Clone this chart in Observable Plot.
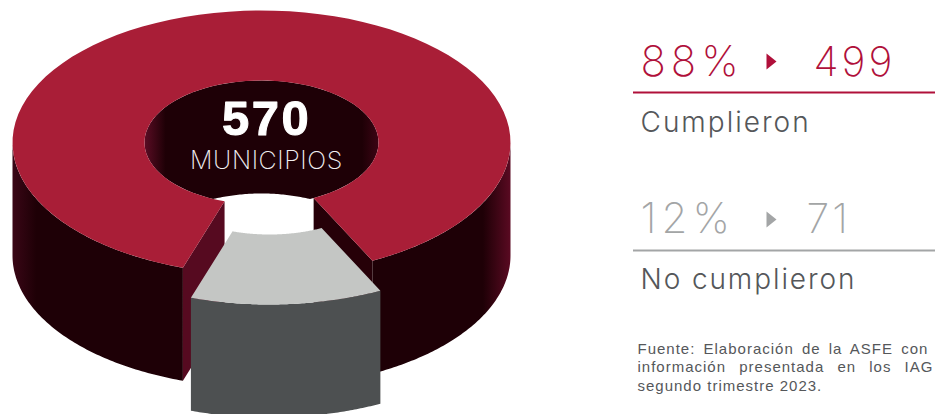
<!DOCTYPE html>
<html>
<head>
<meta charset="utf-8">
<style>html,body{margin:0;padding:0;background:#fff;overflow:hidden}svg{display:block}</style>
<script src="https://cdn.jsdelivr.net/npm/d3@7"></script>
<script src="https://cdn.jsdelivr.net/npm/@observablehq/plot@0.6"></script>
</head>
<body>
<script>
// Data
const total = 570;
const counts = [499, 71];
const percents = ["88%", "12%"];
const groups = ["Cumplieron", "No cumplieron"];
const sourceLines = ["Fuente: Elaboración de la ASFE con", "información presentada en los IAG", "segundo trimestre 2023."];

// Donut geometry in the chart's plane
const cx = 261, cy = 142, rxO = 249, ryO = 132, rxI = 117, ryI = 62, depth = 113;
const explode = {x: 8, y: 30};
const gapLeft = 18.4;                         // rotation of the slice, degrees from front
const gapRight = counts[1] / total * 360 - gapLeft;

const arc = (rx, ry, a0, a1, ox = 0, oy = 0, n = 90) =>
  d3.range(n + 1).map(i => {
    const a = (a0 + (a1 - a0) * i / n) * Math.PI / 180;
    return {x: cx + ox + rx * Math.sin(a), y: cy + oy + ry * Math.cos(a)};
  });
const poly = (pts, fill) => Plot.line(pts, {x: "x", y: "y", fill, stroke: "none", curve: "linear-closed"});
const wall = (a0, a1, ox, oy, fill) =>
  poly([...arc(rxO, ryO, a0, a1, ox, oy), ...arc(rxO, ryO, a1, a0, ox, oy + depth)], fill);
const cutFace = (a, fill) => {
  const o = arc(rxO, ryO, a, a, 0, 0, 1)[0], i = arc(rxI, ryI, a, a, 0, 0, 1)[0];
  return poly([i, o, {x: o.x, y: o.y + depth}, {x: i.x, y: i.y + depth}], fill);
};

const red = "#a91e37", dark = "#1e0006", maroon = "#560a20", darkCut = "#260008";
const greyTop = "#c4c6c4", greyWall = "#4d5051";
const textRed = "#b0103a", textGrey = "#a3a5a6", textDark = "#55575a";

// white seen through the gap: from the foot of the hole's back wall downwards
const backFoot = arc(rxI, ryI, 180 - 40, 180 + 40, 0, depth).filter(p => Math.abs(p.x - cx) <= 52);
const gapWhite = [...backFoot, {x: backFoot[backFoot.length - 1].x, y: cy + ryO + depth}, {x: backFoot[0].x, y: cy + ryO + depth}];

const triangle = (x, y) => [{x, y: y - 8}, {x: x + 10, y}, {x, y: y + 8}];

const font = "Inter, 'Liberation Sans', sans-serif";
const label = (t, x, y, size, fill, weight = 300, anchor = "start", family = font) =>
  Plot.text([t], {text: d => d, x: () => x, y: () => y, fontSize: size, fontWeight: weight, fontFamily: family, fill, textAnchor: anchor, lineAnchor: "bottom", stroke: "none"});

const plot = Plot.plot({
  width: 935, height: 414,
  margin: 0, marginTop: 0, marginRight: 0, marginBottom: 0, marginLeft: 0,
  x: {domain: [0, 935], range: [0, 935], axis: null},
  y: {domain: [0, 414], range: [0, 414], axis: null},
  style: {background: "#fff"},
  marks: [
    // hole
    poly(arc(rxI, ryI, 0, 360), "url(#holeGrad)"),
    poly(gapWhite, "#fff"),
    // outer walls
    wall(-90, -gapLeft, 0, 0, "url(#wallL)"),
    wall(gapRight, 90, 0, 0, "url(#wallR)"),
    // cut faces
    cutFace(-gapLeft, maroon),
    cutFace(gapRight, darkCut),
    // top face of the main slice
    poly([...arc(rxO, ryO, gapRight, 360 - gapLeft), ...arc(rxI, ryI, 360 - gapLeft, gapRight)], red),
    // exploded slice
    wall(-gapLeft, gapRight, explode.x, explode.y, greyWall),
    poly([...arc(rxO, ryO, -gapLeft, gapRight, explode.x, explode.y), ...arc(rxI, ryI, gapRight, -gapLeft, explode.x, explode.y)], greyTop),
    // centre labels
    Plot.text([total], {text: d => String(d), x: () => 266, y: () => 134, fontSize: 49, fontWeight: 700, fontFamily: "'Liberation Sans', sans-serif", fill: "#fff", stroke: "#fff", strokeWidth: 1, textAnchor: "middle", lineAnchor: "bottom"}),
    label("MUNICIPIOS", 266, 168, 25, "#f0eef0", 200, "middle"),
    // right column, group 1
    label(percents[0], 640, 75, 42, textRed, 200),
    poly(triangle(766, 61), textRed),
    label(String(counts[0]), 813, 75, 41, textRed, 200),
    Plot.ruleY([92], {x1: 633, x2: 935, stroke: textRed, strokeWidth: 2}),
    label(groups[0], 640, 131, 28, textDark, 300),
    // right column, group 2
    label(percents[1], 640, 232, 42, textGrey, 200),
    poly(triangle(766, 219), textGrey),
    label(String(counts[1]), 806, 232, 41, textGrey, 200),
    Plot.ruleY([250], {x1: 633, x2: 935, stroke: textGrey, strokeWidth: 2}),
    label(groups[1], 640, 288, 28, textDark, 300),
    // source
    ...sourceLines.map((t, i) => label(t, 637, 353 + i * 18.6, 15, textDark, 400, "start", "'Liberation Sans', sans-serif"))
  ]
});

const root = d3.select(plot);
const defs = root.append("defs");
const grad = (id, stops) => {
  const g = defs.append("linearGradient").attr("id", id).attr("x1", 0).attr("x2", 1).attr("y1", 0).attr("y2", 0);
  stops.forEach(([o, c]) => g.append("stop").attr("offset", o).attr("stop-color", c));
};
grad("holeGrad", [[0, "#5a0c24"], [0.09, dark], [0.93, dark], [1, "#3c0414"]]);
grad("wallL", [[0, "#3a0616"], [0.14, dark], [1, dark]]);
grad("wallR", [[0, dark], [0.8, dark], [1, "#5a0a22"]]);

// tracking and justification of the text lines
const spacing = new Map([
  [percents[0], 5], [percents[1], 5], [String(counts[0]), 3], [String(counts[1]), 3],
  [groups[0], 2], [groups[1], 1.9], ["MUNICIPIOS", 0.6], [String(total), 2.5]
]);
const wordSpacing = new Map([[sourceLines[0], 3], [sourceLines[1], 8]]);
root.selectAll("text").each(function () {
  const t = this.textContent, s = d3.select(this);
  if (spacing.has(t)) s.style("letter-spacing", spacing.get(t) + "px");
  if (wordSpacing.has(t)) s.style("word-spacing", wordSpacing.get(t) + "px");
  if (sourceLines.includes(t)) s.style("letter-spacing", "1px");
});
document.body.appendChild(plot);
</script>
</body>
</html>
